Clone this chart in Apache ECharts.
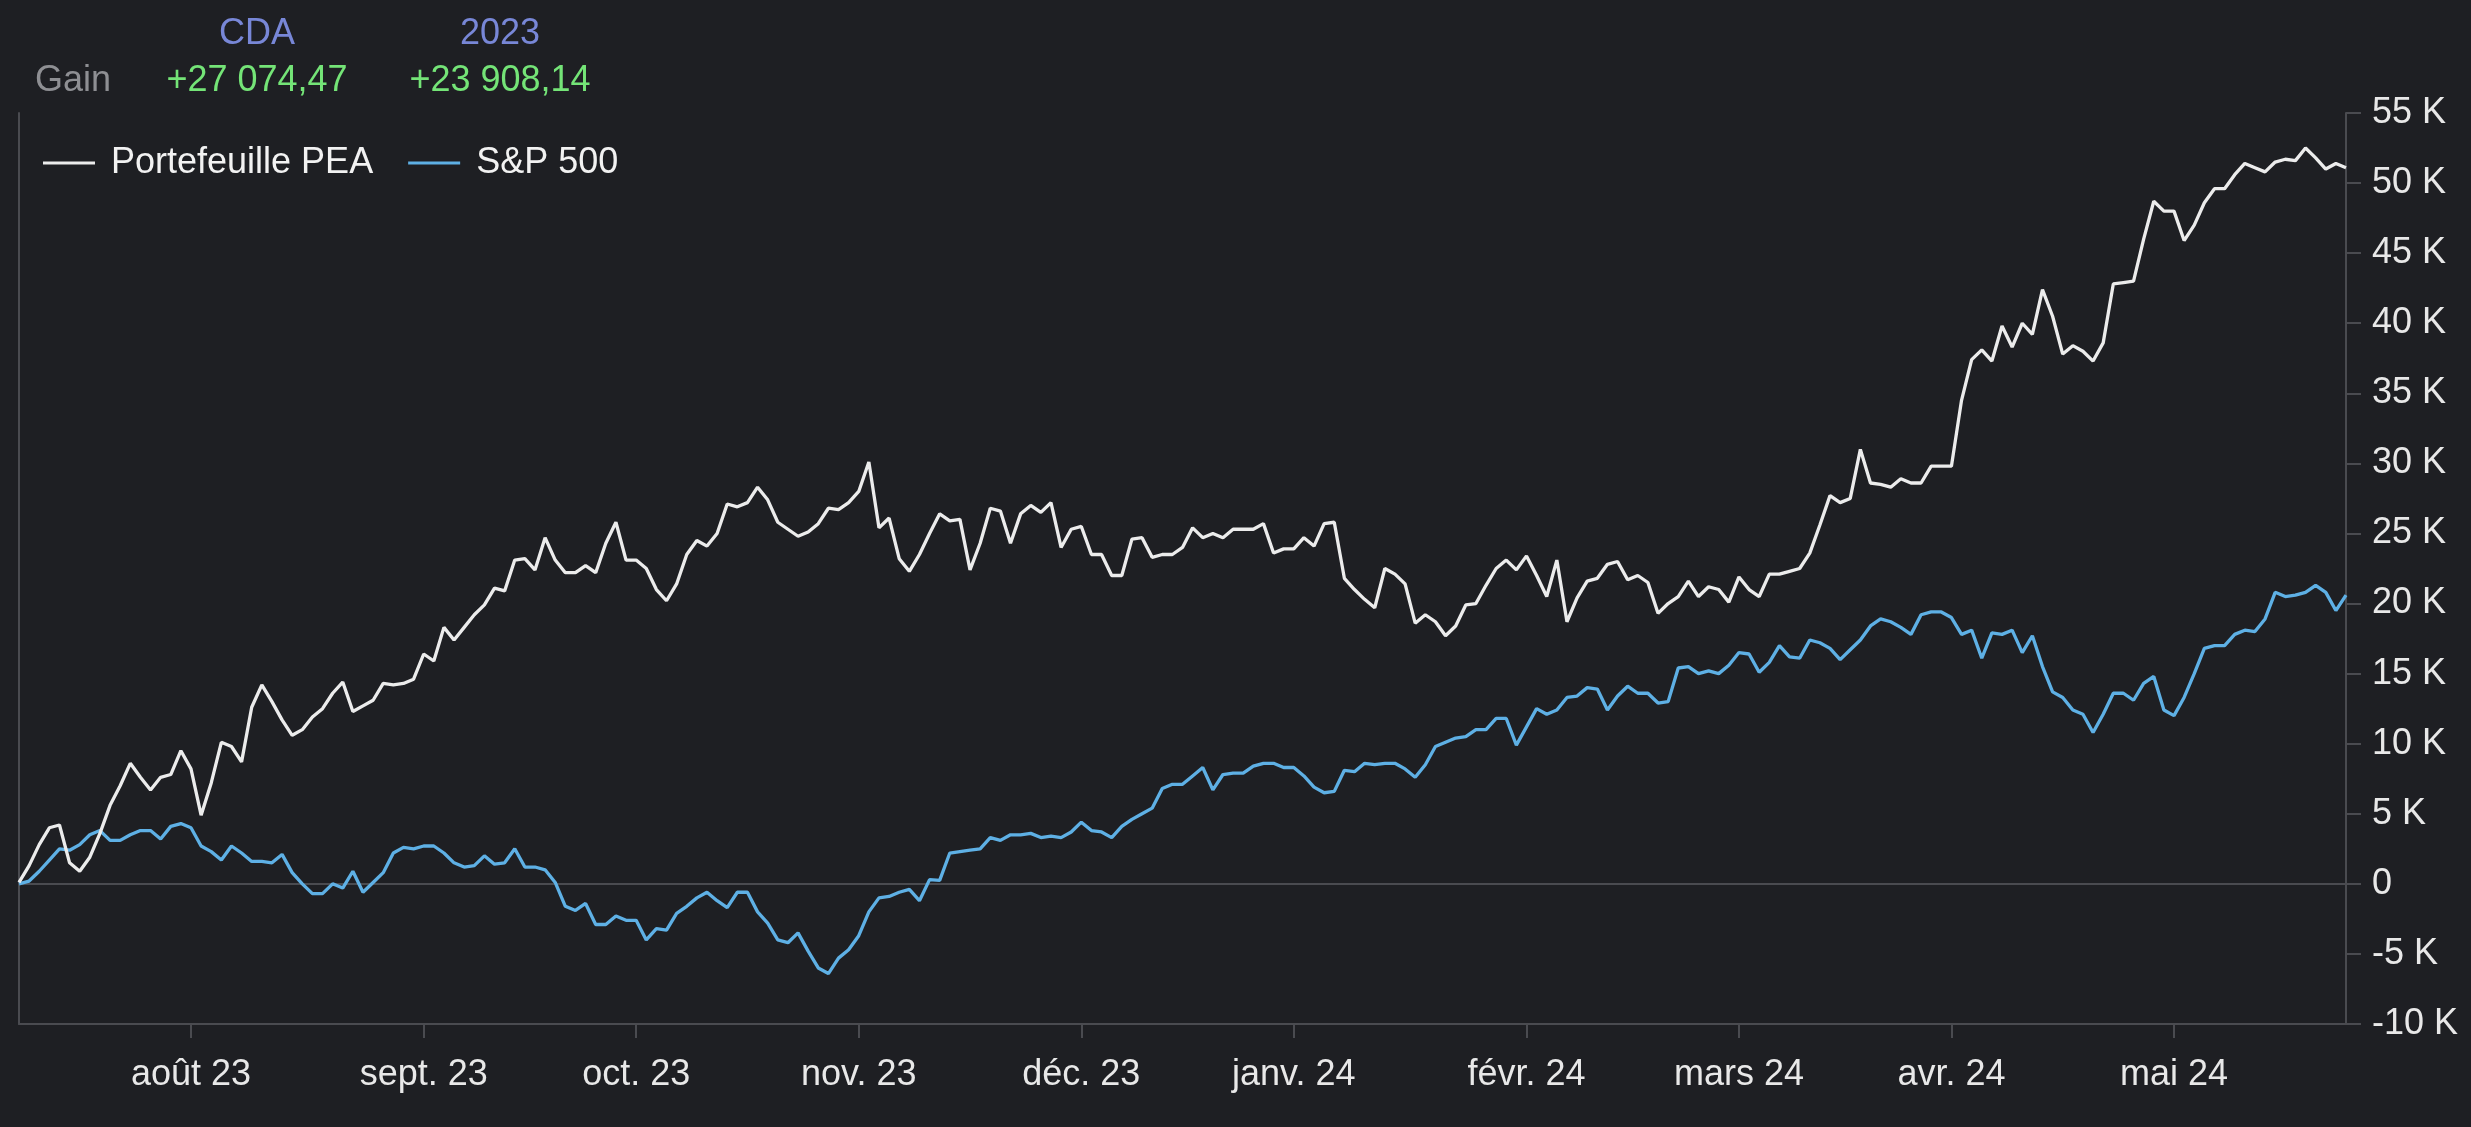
<!DOCTYPE html>
<html>
<head>
<meta charset="utf-8">
<script src="https://cdn.jsdelivr.net/npm/echarts@6/dist/echarts.min.js"></script>
<style>
html,body{margin:0;padding:0;background:#1e1f23;}
#c{width:2471px;height:1127px;}
</style>
</head>
<body>
<div id="c"></div>
<script>
// Weekday range of the chart
const startDate = '2023-07-07';
const endDate = '2024-05-24';
const monthNames = ['janv.', 'févr.', 'mars', 'avr.', 'mai', 'juin', 'juil.', 'août', 'sept.', 'oct.', 'nov.', 'déc.'];

// Values in thousands (K)
const peaValues = [
 0.1,1.3,2.8,4.0,4.2,1.5,0.9,1.9,3.6,5.6,7.0,8.6,7.6,6.7,7.6,7.8,9.5,8.2,4.9,7.2,
 10.1,9.8,8.7,12.6,14.2,13.0,11.7,10.6,11.0,11.9,12.5,13.6,14.4,12.3,12.7,13.1,14.3,14.2,14.3,14.6,
 16.4,15.9,18.3,17.4,18.3,19.2,19.9,21.1,20.9,23.1,23.2,22.4,24.7,23.1,22.2,22.2,22.7,22.2,24.3,25.8,
 23.1,23.1,22.5,21.0,20.2,21.4,23.5,24.5,24.1,25.0,27.1,26.9,27.2,28.3,27.4,25.8,25.3,24.8,25.1,25.7,
 26.8,26.7,27.2,28.0,30.1,25.4,26.1,23.2,22.3,23.5,25.0,26.4,25.9,26.0,22.4,24.3,26.8,26.6,24.3,26.4,
 27.0,26.5,27.2,24.0,25.3,25.5,23.5,23.5,22.0,22.0,24.6,24.7,23.3,23.5,23.5,24.0,25.4,24.7,25.0,24.7,
 25.3,25.3,25.3,25.7,23.6,23.9,23.9,24.7,24.1,25.7,25.8,21.8,21.0,20.3,19.7,22.5,22.1,21.4,18.6,19.2,
 18.7,17.7,18.4,19.9,20.0,21.3,22.5,23.1,22.4,23.4,22.0,20.5,23.1,18.7,20.4,21.6,21.8,22.8,23.0,21.7,
 22.0,21.5,19.3,20.0,20.5,21.6,20.5,21.2,21.0,20.1,21.9,21.0,20.5,22.1,22.1,22.3,22.5,23.6,25.6,27.7,
 27.2,27.5,31.0,28.6,28.5,28.3,28.9,28.6,28.6,29.8,29.8,29.8,34.5,37.4,38.1,37.3,39.8,38.3,40.0,39.2,
 42.4,40.5,37.8,38.4,38.0,37.3,38.6,42.8,42.9,43.0,46.0,48.7,48.0,48.0,45.9,47.0,48.6,49.6,49.6,50.6,
 51.4,51.1,50.8,51.5,51.7,51.6,52.5,51.8,51.0,51.4,51.1
];
const spValues = [
 0,0.2,0.9,1.7,2.5,2.4,2.8,3.5,3.8,3.1,3.1,3.5,3.8,3.8,3.2,4.1,4.3,4.0,2.7,2.3,
 1.7,2.7,2.2,1.6,1.6,1.5,2.1,0.8,0,-0.7,-0.7,0,-0.3,0.9,-0.6,0.1,0.8,2.2,2.6,2.5,
 2.7,2.7,2.2,1.5,1.2,1.3,2.0,1.4,1.5,2.5,1.2,1.2,1.0,0.1,-1.6,-1.9,-1.4,-2.9,-2.9,-2.3,
 -2.6,-2.6,-4.0,-3.2,-3.3,-2.1,-1.6,-1.0,-0.6,-1.2,-1.7,-0.6,-0.6,-2.0,-2.8,-4.0,-4.2,-3.5,-4.8,-6.0,
 -6.4,-5.3,-4.7,-3.7,-2.0,-1.0,-0.9,-0.6,-0.4,-1.2,0.3,0.25,2.2,2.3,2.4,2.5,3.3,3.1,3.5,3.5,
 3.6,3.3,3.4,3.3,3.7,4.4,3.8,3.7,3.3,4.1,4.6,5.0,5.4,6.8,7.1,7.1,7.7,8.3,6.7,7.8,
 7.9,7.9,8.4,8.6,8.6,8.3,8.3,7.7,6.9,6.5,6.6,8.1,8.0,8.6,8.5,8.6,8.6,8.2,7.6,8.5,
 9.8,10.1,10.4,10.5,11.0,11.0,11.8,11.8,9.9,11.2,12.5,12.1,12.4,13.3,13.4,14.0,13.9,12.4,13.4,14.1,
 13.6,13.6,12.9,13.0,15.4,15.5,15.0,15.2,15.0,15.6,16.5,16.4,15.1,15.8,17.0,16.2,16.1,17.4,17.2,16.8,
 16.0,16.7,17.4,18.4,18.9,18.7,18.3,17.8,19.2,19.4,19.4,19.0,17.8,18.1,16.1,17.9,17.8,18.1,16.5,17.7,
 15.5,13.7,13.3,12.4,12.1,10.8,12.1,13.6,13.6,13.1,14.3,14.8,12.4,12.0,13.3,15.0,16.8,17.0,17.0,17.8,
 18.1,18.0,18.9,20.8,20.5,20.6,20.8,21.3,20.8,19.5,20.6
];
const seriesNames = ['Portefeuille PEA', 'S&P 500'];
const headerCols = ['CDA', '2023'];
const headerGains = ['+27 074,47', '+23 908,14'];
const yTicks = {min: -10, max: 55, interval: 5};

// build weekday categories
function weekdays(a, b) {
  const out = [];
  const d = new Date(a + 'T12:00:00Z');
  const e = new Date(b + 'T12:00:00Z');
  while (d <= e) {
    const w = d.getUTCDay();
    if (w !== 0 && w !== 6) out.push(new Date(d.getTime()));
    d.setUTCDate(d.getUTCDate() + 1);
  }
  return out;
}
const dates = weekdays(startDate, endDate);
const categories = dates.map(d => d.toISOString().slice(0, 10));
const monthStart = dates.map((d, i) => i > 0 && d.getUTCMonth() !== dates[i - 1].getUTCMonth());
function fmtMonth(s) {
  const d = new Date(s + 'T12:00:00Z');
  return monthNames[d.getUTCMonth()] + ' ' + String(d.getUTCFullYear()).slice(2);
}

const FONT = '"Liberation Sans", Arial, Helvetica, sans-serif';
const FS = 36;
const axisGray = '#4a4b50';
const splitColors = [];
for (let v = yTicks.min; v <= yTicks.max; v += yTicks.interval) splitColors.push(v === 0 ? axisGray : 'rgba(0,0,0,0)');

const chart = echarts.init(document.getElementById('c'), null, {renderer: 'canvas'});
chart.setOption({
  backgroundColor: '#1e1f23',
  animation: false,
  textStyle: {fontFamily: FONT},
  graphic: [
    {type: 'text', x: 257, y: 34, style: {text: headerCols[0], align: 'center', verticalAlign: 'middle', fill: '#7887d7', fontSize: FS, fontFamily: FONT}},
    {type: 'text', x: 500, y: 34, style: {text: headerCols[1], align: 'center', verticalAlign: 'middle', fill: '#7887d7', fontSize: FS, fontFamily: FONT}},
    {type: 'text', x: 35, y: 81, style: {text: 'Gain', align: 'left', verticalAlign: 'middle', fill: '#8e8f93', fontSize: FS, fontFamily: FONT}},
    {type: 'text', x: 257, y: 81, style: {text: headerGains[0], align: 'center', verticalAlign: 'middle', fill: '#74e477', fontSize: FS, fontFamily: FONT}},
    {type: 'text', x: 500, y: 81, style: {text: headerGains[1], align: 'center', verticalAlign: 'middle', fill: '#74e477', fontSize: FS, fontFamily: FONT}}
  ],
  legend: {
    left: 38, top: 140,
    icon: 'rect',
    itemWidth: 52, itemHeight: 3, itemGap: 35,
    textStyle: {color: '#f2f2f2', fontSize: FS, fontFamily: FONT, padding: [0, 0, 0, 11]},
    data: seriesNames
  },
  grid: {left: 19, right: 125, top: 113, bottom: 103, containLabel: false},
  xAxis: {
    type: 'category',
    data: categories,
    boundaryGap: false,
    axisLine: {show: true, onZero: false, lineStyle: {color: axisGray, width: 2}},
    axisTick: {show: true, length: 14, interval: (i) => monthStart[i], lineStyle: {color: axisGray, width: 2}},
    axisLabel: {interval: (i) => monthStart[i], formatter: fmtMonth, color: '#e8e8e8', fontSize: FS, fontFamily: FONT, margin: 33},
    splitLine: {show: false}
  },
  yAxis: [{
    type: 'value', position: 'right',
    min: yTicks.min, max: yTicks.max, interval: yTicks.interval,
    axisLine: {show: true, lineStyle: {color: axisGray, width: 2}},
    axisTick: {show: true, length: 15, lineStyle: {color: axisGray, width: 2}},
    axisLabel: {color: '#e8e8e8', fontSize: FS, fontFamily: FONT, margin: 26, formatter: v => v === 0 ? '0' : v + ' K'},
    splitLine: {show: true, lineStyle: {color: splitColors, width: 2}}
  }, {
    type: 'value', position: 'left',
    min: yTicks.min, max: yTicks.max, interval: yTicks.interval,
    axisLine: {show: true, lineStyle: {color: axisGray, width: 2}},
    axisTick: {show: false}, axisLabel: {show: false}, splitLine: {show: false}
  }],
  series: [{
    name: seriesNames[0], type: 'line', data: peaValues, yAxisIndex: 0,
    symbol: 'none', showSymbol: false, smooth: false,
    lineStyle: {color: '#ececec', width: 3.3}, itemStyle: {color: '#ececec'}, z: 3
  }, {
    name: seriesNames[1], type: 'line', data: spValues, yAxisIndex: 0,
    symbol: 'none', showSymbol: false, smooth: false,
    lineStyle: {color: '#5eb0e5', width: 3.3}, itemStyle: {color: '#5eb0e5'}, z: 2
  }]
});
</script>
</body>
</html>
